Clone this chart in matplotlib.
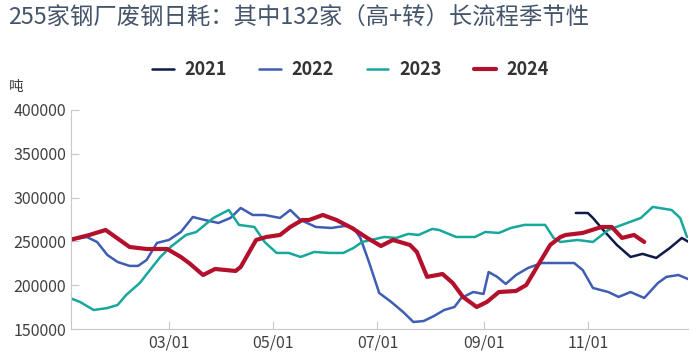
import numpy as np
import pandas as pd
import matplotlib
matplotlib.use('Agg')
import matplotlib.pyplot as plt
import matplotlib.dates as mdates

plt.rcParams['font.family'] = ['Noto Sans CJK SC', 'DejaVu Sans']

# weekly readings (MM-DD, tonnes)
d2021 = ['10-25', '11-01', '11-04', '11-10', '11-18', '11-26', '12-03', '12-11', '12-19', '12-26', '12-31']
v2021 = [282400, 282400, 276700, 263000, 245900, 232200, 235700, 231100, 242500, 253900, 248200]

d2022 = ['01-02', '01-12', '01-18', '01-24', '01-30', '02-06', '02-11', '02-16', '02-22', '03-01', '03-08',
         '03-15', '03-22', '03-30', '04-06', '04-12', '04-19', '04-26', '05-05', '05-11', '05-17', '05-26',
         '06-04', '06-12', '06-17', '06-21', '06-26', '07-02', '07-09', '07-16', '07-22', '07-28', '08-03',
         '08-09', '08-15', '08-19', '08-26', '09-01', '09-04', '09-09', '09-14', '09-20', '09-27', '10-05',
         '10-15', '10-24', '10-29', '11-04', '11-13', '11-19', '11-26', '12-04', '12-12', '12-17', '12-24',
         '12-31']
v2022 = [251600, 255000, 249300, 234500, 226500, 222000, 222000, 228800, 248200, 251600, 260700,
         277800, 274400, 271000, 276700, 288100, 280100, 280100, 276700, 285800, 274400, 266400,
         265300, 267600, 265300, 253900, 226500, 191100, 180900, 169400, 158000, 159100, 164800,
         171700, 175100, 185400, 192200, 190000, 215000, 209500, 201400, 211600, 219600, 225300,
         225300, 225300, 217300, 196800, 192200, 186600, 192200, 185400, 202500, 209500, 211600,
         205900]

d2023 = ['01-02', '01-08', '01-16', '01-24', '01-30', '02-04', '02-12', '02-17', '02-24', '03-02', '03-11',
         '03-17', '03-27', '04-05', '04-11', '04-20', '04-26', '05-03', '05-10', '05-17', '05-25', '06-03',
         '06-11', '06-17', '06-22', '07-05', '07-12', '07-19', '07-25', '08-02', '08-06', '08-16', '08-27',
         '09-02', '09-10', '09-17', '09-25', '10-07', '10-12', '10-16', '10-26', '11-04', '11-13', '11-21',
         '12-02', '12-09', '12-20', '12-25', '12-29']
v2023 = [185400, 180900, 171700, 173900, 177400, 188800, 202500, 215000, 232200, 243600, 257300,
         260700, 276700, 285800, 268800, 266400, 249300, 236800, 236800, 232200, 237900, 236800,
         236800, 242500, 249300, 255000, 253900, 258500, 257300, 264200, 263000, 255000, 255000,
         260700, 259600, 265300, 268800, 268800, 253900, 249300, 251600, 249300, 263000, 268800,
         276700, 289300, 285800, 276700, 255000]

d2024 = ['01-02', '01-13', '01-23', '02-06', '02-16', '02-28', '03-08', '03-13', '03-21', '03-28', '04-09',
         '04-12', '04-21', '04-27', '05-05', '05-11', '05-18', '05-22', '05-30', '06-07', '06-16', '06-25',
         '07-03', '07-10', '07-20', '07-24', '07-30', '08-05', '08-08', '08-14', '08-20', '08-28', '09-03',
         '09-10', '09-20', '09-26', '10-04', '10-10', '10-16', '10-19', '10-29', '11-09', '11-15', '11-21',
         '11-28', '12-04']
v2024 = [251600, 257000, 263000, 243600, 241300, 241300, 232200, 225000, 211600, 218500, 216200,
         220800, 251600, 255000, 257300, 266400, 274400, 274400, 280100, 274400, 265300, 253900,
         244700, 251600, 245900, 237900, 209500, 211600, 212800, 202500, 186600, 175100, 180900,
         192200, 193400, 200200, 226500, 245900, 255000, 257300, 259600, 266400, 266400, 253900,
         257300, 249300]

series = [('2021', d2021, v2021, '#0f1a4a', 1.8),
          ('2022', d2022, v2022, '#3e5db3', 1.8),
          ('2023', d2023, v2023, '#16a89c', 1.8),
          ('2024', d2024, v2024, '#b3102c', 3.0)]

fig = plt.figure(figsize=(6.98, 3.58), dpi=100)
ax = fig.add_axes([0.1017, 0.081, 0.884, 0.612])

for name, days, vals, color, lw in series:
    dates = pd.to_datetime(['2001-' + d for d in days])
    ax.plot(dates, vals, color=color, lw=lw, label=name,
            solid_capstyle='round', solid_joinstyle='round')

start = pd.Timestamp('2001-01-01')
ax.set_xlim(start + pd.Timedelta(days=1.75), start + pd.Timedelta(days=362.6))
ax.set_ylim(150000, 400000)
ax.set_yticks(np.arange(150000, 400001, 50000))
ax.xaxis.set_major_locator(mdates.MonthLocator(bymonth=[3, 5, 7, 9, 11]))
ax.xaxis.set_major_formatter(mdates.DateFormatter('%m/%d'))

for s in ['top', 'right']:
    ax.spines[s].set_visible(False)
ax.spines['left'].set_color('#c8c8c8')
ax.spines['bottom'].set_color('#c8c8c8')
ax.tick_params(axis='both', direction='in', length=6, color='#c8c8c8', labelsize=11.5, labelcolor='#404040')
ax.tick_params(axis='x', pad=4)

fig.text(0.012, 0.948, '255家钢厂废钢日耗：其中132家（高+转）长流程季节性', fontsize=16.8,
         color='#44546a', va='center', ha='left')
fig.text(0.012, 0.757, '吨', fontsize=10.5, color='#404040', va='center', ha='left')

leg = fig.legend(loc='center', bbox_to_anchor=(0.502, 0.805), ncol=4, frameon=False,
                 handlelength=1.2, handletextpad=0.6, columnspacing=1.8,
                 prop={'size': 13, 'weight': 'bold'})
for t in leg.get_texts():
    t.set_color('#333333')

fig.savefig('out.png', dpi=100, facecolor='white')
